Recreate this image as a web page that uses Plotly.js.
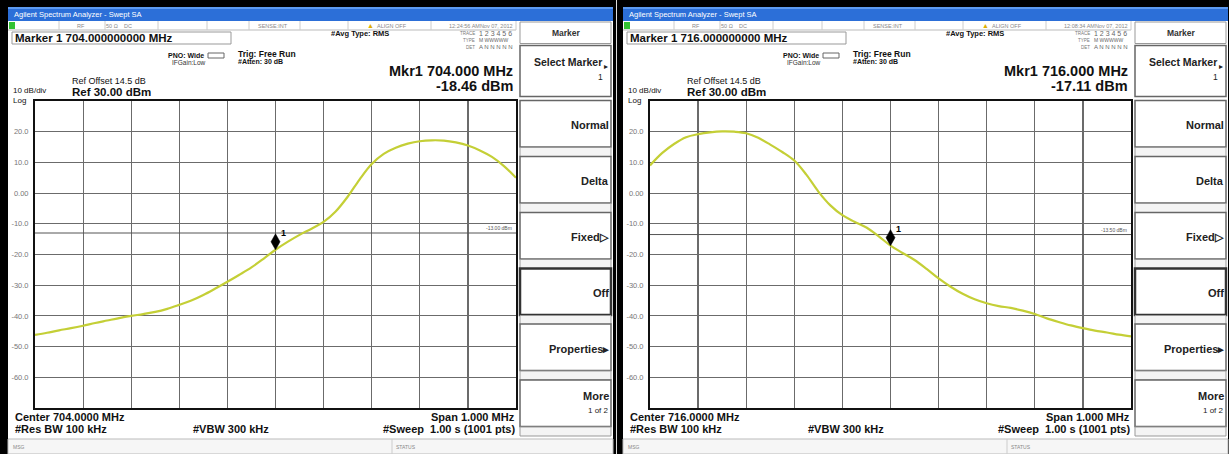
<!DOCTYPE html>
<html><head><meta charset="utf-8">
<script src="https://cdn.plot.ly/plotly-3.0.1.min.js"></script>
<style>html,body{margin:0;padding:0;background:#000;overflow:hidden}#chart{width:1229px;height:454px}</style>
</head><body><div id="chart"></div>
<script>
const W = 1229, H = 454;

// ---------------- data ----------------
const leftFreqMHz = [703.500,703.525,703.550,703.575,703.600,703.625,703.650,703.675,703.700,703.725,703.750,703.775,703.800,703.825,703.850,703.875,703.900,703.925,703.950,703.975,704.000,704.025,704.050,704.075,704.100,704.125,704.150,704.175,704.200,704.225,704.250,704.275,704.300,704.325,704.350,704.375,704.400,704.425,704.450,704.475,704.500];
const leftLevelDbm = [-46.2,-45.5,-44.7,-44.0,-43.2,-42.3,-41.5,-40.7,-40.0,-39.4,-38.7,-37.7,-36.4,-35.0,-33.2,-31.1,-28.9,-26.6,-24.2,-21.4,-18.46,-15.9,-13.6,-11.6,-9.4,-6.0,-1.2,4.5,9.5,12.8,14.8,16.1,16.9,17.2,17.1,16.5,15.5,13.9,11.8,8.8,5.0];
const rightFreqMHz = [715.500,715.525,715.550,715.575,715.600,715.625,715.650,715.675,715.700,715.725,715.750,715.775,715.800,715.825,715.850,715.875,715.900,715.925,715.950,715.975,716.000,716.025,716.050,716.075,716.100,716.125,716.150,716.175,716.200,716.225,716.250,716.275,716.300,716.325,716.350,716.375,716.400,716.425,716.450,716.475,716.500];
const rightLevelDbm = [9.0,13.0,16.0,18.2,19.2,19.8,20.1,20.0,19.5,18.0,15.8,13.4,10.6,6.0,0.5,-4.0,-7.2,-9.3,-11.2,-14.0,-17.11,-19.5,-21.8,-24.7,-27.8,-30.5,-32.8,-34.6,-35.9,-36.8,-37.4,-38.3,-39.4,-40.8,-42.0,-43.1,-44.0,-44.8,-45.4,-46.1,-46.7];
const centerFreqMHz = [704.0, 716.0];
const spanMHz = 1.0;
const markerFreqMHz = [704.0, 716.0];
const markerLevelDbm = [-18.46, -17.11];
const displayLineDbm = [-13.00, -13.50];
const refLevelDbm = 30, dbPerDiv = 10, numDiv = 10;
const yTickVals = [20, 10, 0, -10, -20, -30, -40, -50, -60];
const yTickText = ['20.0','10.0','0.00','-10.0','-20.0','-30.0','-40.0','-50.0','-60.0'];
const timestamps = ['12:24:56 AMNov 07, 2012', '12:08:34 AMNov 07, 2012'];
const softkeyLabels = ['Normal', 'Delta', 'Fixed\u25B7', 'Off', 'Properties\u25B8', 'More'];

// ---------------- helpers ----------------
const FONT = 'Liberation Sans, Arial, sans-serif';
const PX = x => x / W, PY = y => 1 - y / H;
const shapes = [], annotations = [];
function rect(x0, y0, x1, y1, fill, line, lw, layer) {
  shapes.push({type:'rect', xref:'paper', yref:'paper', x0:PX(x0), x1:PX(x1), y0:PY(y1), y1:PY(y0),
    fillcolor: fill || 'rgba(0,0,0,0)', line:{color: line || 'rgba(0,0,0,0)', width: lw || 0}, layer: layer || 'below'});
}
function seg(x0, y0, x1, y1, color, w) {
  shapes.push({type:'line', xref:'paper', yref:'paper', x0:PX(x0), x1:PX(x1), y0:PY(y0), y1:PY(y1),
    line:{color:color, width:w}, layer:'below'});
}
function T(x, y, text, size, o) {
  o = o || {};
  annotations.push({xref:'paper', yref:'paper', x:PX(x), y:PY(y), text:text, showarrow:false,
    xanchor:o.xa || 'left', yanchor:'middle', borderpad:0,
    font:{family:o.f || FONT, size:size, color:o.c || '#111'}});
}

const traces = [];
const layout = {
  width: W, height: H, margin:{l:0, r:0, t:0, b:0},
  paper_bgcolor:'#000', plot_bgcolor:'#fff', showlegend:false, hovermode:false
};

for (let i = 0; i < 2; i++) {
  const dx = 615 * i;
  const xa = i === 0 ? 'x' : 'x2', ya = i === 0 ? 'y' : 'y2';
  const c = centerFreqMHz[i];
  const f0 = c - spanMHz / 2, f1 = c + spanMHz / 2;

  // panel background + window chrome
  rect(8 + dx, 7, 613 + dx, 454, '#ffffff');
  rect(8 + dx, 7, 613 + dx, 21, '#2c6fd8');
  rect(8 + dx, 7, 613 + dx, 9, '#5d9af0');
  T(13 + dx, 14.5, 'Agilent Spectrum Analyzer - Swept SA', 7.5, {c:'#ffffff'});
  // status row
  seg(8 + dx, 30, 516 + dx, 30, '#bbbbbb', 1);
  [59, 105, 158, 207, 249, 300, 348, 431, 516].forEach(x => seg(x + dx, 21, x + dx, 30, '#cccccc', 1));
  rect(9 + dx, 22, 15 + dx, 29, '#33c233');
  T(81 + dx, 25.5, 'RF', 5.5, {xa:'center', c:'#888'});
  T(112 + dx, 25.5, '50 \u03A9', 5.5, {xa:'center', c:'#888'});
  T(128 + dx, 25.5, 'DC', 5.5, {xa:'center', c:'#888'});
  T(273 + dx, 25.5, 'SENSE:INT', 5.5, {xa:'center', c:'#888'});
  T(370 + dx, 25.5, '\u25B2', 7, {xa:'center', c:'#e0b000'});
  T(376 + dx, 25.5, 'ALIGN OFF', 5.5, {c:'#888'});
  T(514 + dx, 25.5, timestamps[i], 5.5, {xa:'right', c:'#888'});
  // marker box
  rect(12 + dx, 32, 231 + dx, 44, null, '#999999', 1);
  T(14 + dx, 38, '<b>Marker 1 ' + markerFreqMHz[i].toFixed(9) + ' MHz</b>', 11.5);
  T(330 + dx, 33, '<b>#Avg Type: RMS</b>', 7.5);
  T(476 + dx, 33, 'TRACE', 4.5, {xa:'right', c:'#777'});
  T(478 + dx, 33, '1 2 3 4 5 6', 7, {c:'#666'});
  T(476 + dx, 40, 'TYPE', 4.5, {xa:'right', c:'#777'});
  T(478 + dx, 40, 'M WWWWW', 5, {c:'#666'});
  T(476 + dx, 47, 'DET', 4.5, {xa:'right', c:'#777'});
  T(478 + dx, 47, 'A N N N N N', 6, {c:'#666'});
  T(205 + dx, 56, '<b>PNO: Wide</b>', 7, {xa:'right'});
  rect(208 + dx, 53, 224 + dx, 58, null, '#666666', 1);
  T(207 + dx, 63, 'IFGain:Low', 6.5, {xa:'right', c:'#333'});
  T(237 + dx, 54, '<b>Trig: Free Run</b>', 8.5);
  T(237 + dx, 62, '<b>#Atten: 30 dB</b>', 7);
  T(514 + dx, 71, '<b>Mkr1 ' + markerFreqMHz[i].toFixed(3) + ' MHz</b>', 14.5, {xa:'right'});
  T(514 + dx, 86, '<b>' + markerLevelDbm[i].toFixed(2) + ' dBm</b>', 14.5, {xa:'right'});
  T(71 + dx, 81, 'Ref Offset 14.5 dB', 9);
  T(71 + dx, 92, '<b>Ref ' + refLevelDbm.toFixed(2) + ' dBm</b>', 11.5);
  T(12 + dx, 90, dbPerDiv + ' dB/div', 8);
  T(12 + dx, 100.5, 'Log', 8);

  // bottom annotation rows
  T(14 + dx, 417, '<b>Center ' + c.toFixed(4) + ' MHz</b>', 11);
  T(516 + dx, 417, '<b>Span ' + spanMHz.toFixed(3) + ' MHz</b>', 11, {xa:'right'});
  T(14 + dx, 429, '<b>#Res BW 100 kHz</b>', 11);
  T(192 + dx, 429, '<b>#VBW 300 kHz</b>', 11);
  T(516 + dx, 429, '<b>#Sweep  1.00 s (1001 pts)</b>', 11, {xa:'right'});
  // msg bar
  rect(8 + dx, 439, 613 + dx, 454, '#f6f6f6', '#bbbbbb', 1);
  seg(392 + dx, 439, 392 + dx, 454, '#cccccc', 1);
  T(12 + dx, 446.5, 'MSG', 5, {c:'#888'});
  T(395 + dx, 446.5, 'STATUS', 5, {c:'#888'});

  // softkeys
  rect(520 + dx, 22, 611 + dx, 43.5, '#ffffff', '#999999', 1);
  T(566 + dx, 33, '<b>Marker</b>', 8.5, {xa:'center', c:'#333'});
  rect(520 + dx, 45.5, 611 + dx, 96.5, '#ffffff', '#666666', 1.5);
  T(603 + dx, 62, '<b>Select Marker</b>', 10.5, {xa:'right', c:'#222'});
  T(609 + dx, 66, '\u25B8', 8, {xa:'right', c:'#222'});
  T(604 + dx, 77, '1', 8.5, {xa:'right', c:'#222'});
  const tops = [100.5, 156.5, 212.5, 268.5, 324, 380];
  tops.forEach((t, k) => {
    rect(520 + dx, t, 611 + dx, t + 46.5, '#ffffff', k === 3 ? '#333333' : '#666666', k === 3 ? 2.5 : 1.5);
    rect(520 + dx, t + 47, 611 + dx, t + 56, '#f4f4f4', '#999999', 1);
    if (k === 5) {
      T(610 + dx, t + 16, '<b>' + softkeyLabels[k] + '</b>', 11, {xa:'right', c:'#222'});
      T(610 + dx, t + 30.5, '1 of 2', 8, {xa:'right', c:'#222'});
    } else {
      T(610 + dx, t + 24.5, '<b>' + softkeyLabels[k] + '</b>', 11, {xa:'right', c:'#222'});
    }
  });

  // axes
  const xkey = i === 0 ? 'xaxis' : 'xaxis2', ykey = i === 0 ? 'yaxis' : 'yaxis2';
  layout[xkey] = {domain:[PX(35 + dx), PX(516 + dx)], anchor: ya, range:[f0, f1],
    tickmode:'linear', tick0:f0, dtick:spanMHz / numDiv, showticklabels:false, ticks:'',
    showgrid:true, gridcolor:'#6b6b6b', gridwidth:1.2, zeroline:false,
    showline:true, mirror:true, linecolor:'#111', linewidth:2, fixedrange:true};
  layout[ykey] = {domain:[PY(408), PY(101)], anchor: xa,
    range:[refLevelDbm - dbPerDiv * numDiv, refLevelDbm],
    tickmode:'array', tickvals:yTickVals, ticktext:yTickText, ticks:'', ticklabelstandoff:3,
    tickfont:{family:FONT, size:7.5, color:'#777'},
    showgrid:true, gridcolor:'#6b6b6b', gridwidth:1.2, zeroline:false,
    showline:true, mirror:true, linecolor:'#111', linewidth:2, fixedrange:true};

  // display line
  traces.push({type:'scatter', mode:'lines', x:[f0, f1], y:[displayLineDbm[i], displayLineDbm[i]],
    xaxis:xa, yaxis:ya, line:{color:'#555', width:1}});
  annotations.push({xref:xa, yref:ya, x:f1, y:displayLineDbm[i], xanchor:'right', yanchor:'bottom',
    xshift:-2, yshift:0, showarrow:false, text:displayLineDbm[i].toFixed(2) + ' dBm',
    font:{family:FONT, size:5, color:'#555'}});

  // spectrum trace
  traces.push({type:'scatter', mode:'lines',
    x: i === 0 ? leftFreqMHz : rightFreqMHz, y: i === 0 ? leftLevelDbm : rightLevelDbm,
    xaxis:xa, yaxis:ya, line:{color:'#c4cf36', width:2.2, shape:'spline', smoothing:1}});

  // marker diamond sitting on the trace
  shapes.push({type:'path', xref:xa, yref:ya, xsizemode:'pixel', ysizemode:'pixel',
    xanchor:markerFreqMHz[i], yanchor:markerLevelDbm[i], path:'M0,0 L4.5,8 L0,16 L-4.5,8 Z',
    fillcolor:'#000', line:{color:'#000', width:0.5}, layer:'above'});
  annotations.push({xref:xa, yref:ya, x:markerFreqMHz[i], y:markerLevelDbm[i], xshift:8, yshift:17,
    showarrow:false, text:'<b>1</b>', font:{family:FONT, size:9, color:'#000'}});
}
// divider white line
seg(616.5, 0, 616.5, 454, '#dddddd', 1);

layout.shapes = shapes;
layout.annotations = annotations;
Plotly.newPlot('chart', traces, layout, {staticPlot:true, displayModeBar:false});
</script></body></html>
